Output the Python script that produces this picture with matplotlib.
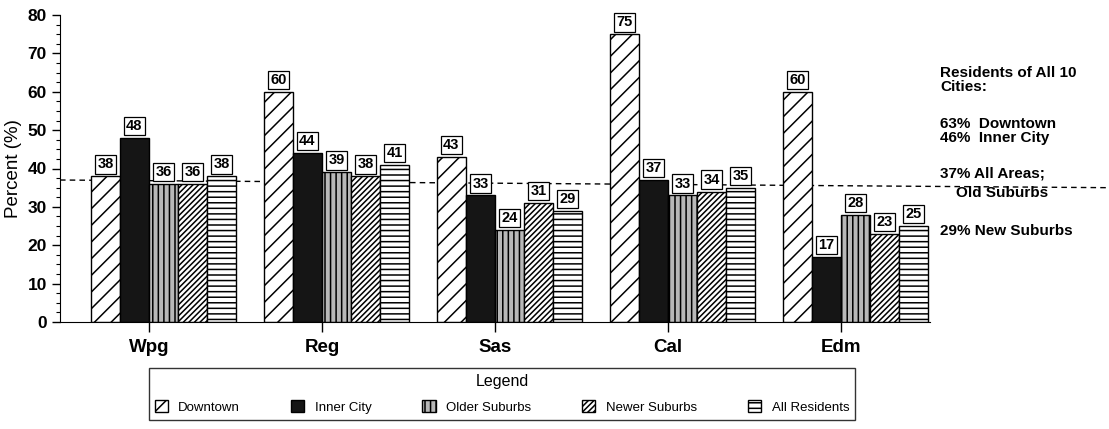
import numpy as np
import matplotlib
matplotlib.use("Agg")
import matplotlib.pyplot as plt
from matplotlib.ticker import MultipleLocator

plt.rcParams['font.family'] = ['Liberation Sans', 'DejaVu Sans']
plt.rcParams['hatch.linewidth'] = 1.1

# data
cities = ['Wpg', 'Reg', 'Sas', 'Cal', 'Edm']
downtown = [38, 60, 43, 75, 60]
inner_city = [48, 44, 33, 37, 17]
older_suburbs = [36, 39, 24, 33, 28]
newer_suburbs = [36, 38, 31, 34, 23]
all_residents = [38, 41, 29, 35, 25]
avg_all = 37

series = [
    ('Downtown', downtown, 'white', '//'),
    ('Inner City', inner_city, '#151515', ''),
    ('Older Suburbs', older_suburbs, '#b8b8b8', '|||'),
    ('Newer Suburbs', newer_suburbs, 'white', '//////'),
    ('All Residents', all_residents, 'white', '---'),
]

fig = plt.figure(figsize=(11.09, 4.29), dpi=100)
ax = fig.add_axes([60/1109, 1-322/429, 870/1109, 307/429])

x = np.arange(len(cities))
w = 0.168
for k, (name, vals, fc, hatch) in enumerate(series):
    bars = ax.bar(x + (k-2)*w, vals, width=w, align='edge', color=fc,
                  edgecolor='black', linewidth=1.0, hatch=hatch, label=name)
    for b, v in zip(bars, vals):
        ax.annotate(str(v), (b.get_x() + b.get_width()/2, v),
                    xytext=(0, 3.5), textcoords='offset points',
                    ha='center', va='bottom', fontsize=10.5, fontweight='bold',
                    bbox=dict(boxstyle='square,pad=0.15', fc='white',
                              ec='black', lw=0.9))

# average line for all areas, runs out past the plot
ax.plot([-0.514, 5.55], [avg_all, avg_all - 2], ls=(0, (4, 3)), color='black',
        lw=1.0, clip_on=False, zorder=0)

ax.set_xlim(-0.514, 4.514)
ax.set_ylim(0, 80)
ax.set_xticks(x)
ax.set_xticklabels(cities, fontsize=13.5, fontweight='bold')
ax.yaxis.set_major_locator(MultipleLocator(10))
ax.yaxis.set_minor_locator(MultipleLocator(2.5))
ax.tick_params(axis='y', which='major', length=6, labelsize=12.5, width=1)
ax.tick_params(axis='y', which='minor', length=3, width=0.8)
ax.tick_params(axis='x', length=7, width=1, pad=5)
for lab in ax.get_yticklabels():
    lab.set_fontweight('bold')
ax.set_ylabel('Percent (%)', fontsize=13.5, labelpad=4)
ax.spines['top'].set_visible(False)
ax.spines['right'].set_visible(False)

# notes on the right
fig.text(940/1109, 1-80/429, 'Residents of All 10\nCities:', fontsize=11,
         fontweight='bold', va='center', linespacing=0.95)
fig.text(940/1109, 1-131/429, '63%  Downtown\n46%  Inner City', fontsize=11,
         fontweight='bold', va='center', linespacing=1.0)
fig.text(940/1109, 1-173/429, '37% All Areas;', fontsize=11, fontweight='bold',
         va='center')
fig.text(956/1109, 1-193/429, 'Old Suburbs', fontsize=11, fontweight='bold',
         va='center')
fig.text(940/1109, 1-231/429, '29% New Suburbs', fontsize=11, fontweight='bold',
         va='center')

leg = fig.legend(loc='upper left', bbox_to_anchor=(142/1109, 1-366/429, 720/1109, 0.01),
                 mode='expand', ncol=5, title='Legend', fontsize=9.5,
                 title_fontsize=11.5, frameon=True, fancybox=False,
                 edgecolor='black', handlelength=1.0, handleheight=1.0,
                 borderpad=0.45, labelspacing=0.2)
leg.get_frame().set_linewidth(1.0)
leg._legend_box.sep = 8

fig.savefig('out.png', dpi=100)
